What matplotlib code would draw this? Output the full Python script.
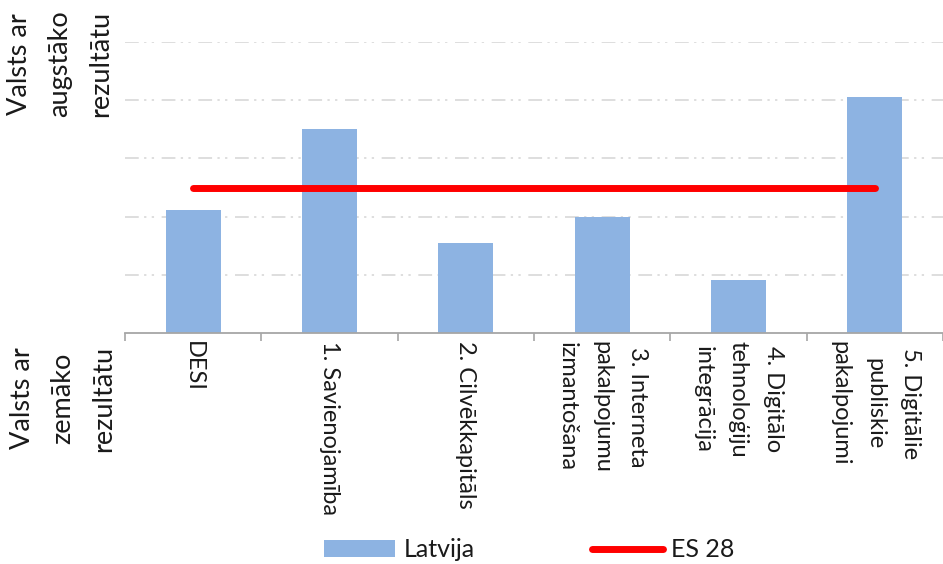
import matplotlib
matplotlib.use("Agg")
import matplotlib.pyplot as plt
import numpy as np

plt.rcParams['font.family'] = ['Lato', 'DejaVu Sans']

# dati
categories = ["DESI",
              "1. Savienojamība",
              "2. Cilvēkkapitāls",
              "3. Interneta\npakalpojumu\nizmantošana",
              "4. Digitālo\ntehnoloģiju\nintegrācija",
              "5. Digitālie\npubliskie\npakalpojumi"]
latvija = [0.424, 0.702, 0.308, 0.40, 0.18, 0.81]
es28 = [0.497] * 6
grid_vals = [0.2, 0.4, 0.6, 0.8, 1.0]

W, H = 943, 564
fig = plt.figure(figsize=(W / 100, H / 100), dpi=100)
ax = fig.add_axes([125 / W, 231.3 / H, 818 / W, 290.4 / H])

x = np.arange(len(categories))
bars = ax.bar(x, latvija, width=0.405, color='#8DB3E2', label='Latvija', zorder=2)
line, = ax.plot(x, es28, color='#FF0000', lw=5, solid_capstyle='round', label='ES 28', zorder=3)

ax.set_xlim(-0.5, 5.449)
ax.set_ylim(0, 1.0)

# režģis
ax.set_yticks(grid_vals)
ax.yaxis.grid(True, color='#D4D4D4', lw=1.1, linestyle=(0, (9, 3.5, 1.5, 3.5, 1.5, 5)))
ax.tick_params(axis='y', length=0, labelleft=False)
ax.set_axisbelow(True)

for s in ['left', 'top', 'right']:
    ax.spines[s].set_visible(False)
ax.spines['bottom'].set_color('#A6A6A6')
ax.spines['bottom'].set_linewidth(1.3)

ax.set_xticks(x)
ax.set_xticks(np.arange(-0.5, 6, 1), minor=True)
ax.tick_params(axis='x', which='major', length=0, pad=6)
ax.tick_params(axis='x', which='minor', length=6, width=1.2, color='#A6A6A6', direction='out')
ax.set_xticklabels(categories, rotation=270, ha='center', va='top',
                   multialignment='center', fontsize=17, linespacing=1.85, color='#1a1a1a')

# ass nosaukumi
fig.text(60 / W, 1 - 64 / H, "Valsts ar\naugstāko\nrezultātu", rotation=90,
         ha='center', va='center', multialignment='center', fontsize=19.5,
         linespacing=1.78, color='#1a1a1a')
fig.text(63 / W, 1 - 398.5 / H, "Valsts ar\nzemāko\nrezultātu", rotation=90,
         ha='center', va='center', multialignment='center', fontsize=19.5,
         linespacing=1.78, color='#1a1a1a')

fig.legend([bars, line], ['Latvija', 'ES 28'], loc='center',
           bbox_to_anchor=(0.5615, 0.025), ncol=2, frameon=False,
           fontsize=18, handlelength=2.84, handletextpad=0.32, columnspacing=4.7,
           labelcolor='#1a1a1a')

fig.savefig('out.png', dpi=100)
